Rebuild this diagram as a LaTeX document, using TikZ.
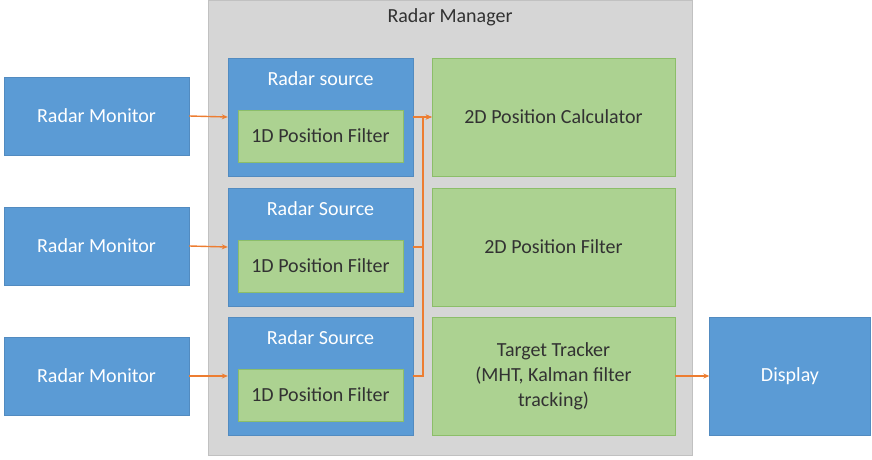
\documentclass[tikz,border=0pt]{standalone}
\usepackage{fontspec}
\setmainfont{Carlito}
\usetikzlibrary{arrows.meta}
\definecolor{boxblue}{RGB}{91,155,213}
\definecolor{boxgreen}{RGB}{172,210,145}
\definecolor{greenline}{RGB}{140,190,105}
\definecolor{mgrgray}{RGB}{214,214,214}
\definecolor{flowline}{RGB}{237,125,49}
\definecolor{darktext}{RGB}{50,50,50}
\tikzset{
  bluebox/.style={draw=boxblue!90!black, fill=boxblue, text=white, inner sep=0pt},
  greenbox/.style={draw=greenline, fill=boxgreen, text=darktext, inner sep=0pt, align=center},
  flow/.style={draw=flowline, line width=1.4pt, -{Stealth[length=6pt,width=5pt]}},
  bus/.style={draw=flowline, line width=1.4pt}
}
\begin{document}
\begin{tikzpicture}[x=1pt, y=-1pt, font=\fontsize{20}{25}\selectfont]
        \useasboundingbox (0,0) rectangle (872,460);
        % Radar Manager
        \node[fill=mgrgray, draw=mgrgray!90!black, minimum width=484pt, minimum height=455pt, inner sep=0pt] (mgr) at (450,227.5) {};
        \node[text=darktext] (mgrlabel) at (450,17) {Radar Manager};
        % Monitores
        \node[bluebox, minimum width=185pt, minimum height=78pt] (mon1) at (96.5,116) {Radar Monitor};
        \node[bluebox, minimum width=185pt, minimum height=78pt] (mon2) at (96.5,246) {Radar Monitor};
        \node[bluebox, minimum width=185pt, minimum height=78pt] (mon3) at (96.5,376) {Radar Monitor};
        % Fuentes con filtro 1D
        \node[bluebox, minimum width=185pt, minimum height=118pt] (src1) at (320.5,117) {};
        \node[bluebox, minimum width=185pt, minimum height=118pt] (src2) at (320.5,247) {};
        \node[bluebox, minimum width=185pt, minimum height=118pt] (src3) at (320.5,376) {};
        \node[text=white] (srclabel1) at (320.5,79) {Radar source};
        \node[text=white] (srclabel2) at (320.5,209) {Radar Source};
        \node[text=white] (srclabel3) at (320.5,338) {Radar Source};
        \node[greenbox, minimum width=165pt, minimum height=52pt] (flt1) at (320.5,136) {1D Position Filter};
        \node[greenbox, minimum width=165pt, minimum height=52pt] (flt2) at (320.5,266) {1D Position Filter};
        \node[greenbox, minimum width=165pt, minimum height=52pt] (flt3) at (320.5,395) {1D Position Filter};
        % Etapas 2D
        \node[greenbox, minimum width=243pt, minimum height=118pt] (calc) at (553.5,117) {2D Position Calculator};
        \node[greenbox, minimum width=243pt, minimum height=118pt] (pfilt) at (553.5,247) {2D Position Filter};
        \node[greenbox, minimum width=243pt, minimum height=118pt] (track) at (553.5,376) {Target Tracker\\(MHT, Kalman filter\\tracking)};
        % Display
        \node[bluebox, minimum width=161pt, minimum height=118pt] (disp) at (790,376) {Display};
        % Conexiones
        \coordinate (busx) at (423,0);
        \draw[flow] (mon1.east) -- (src1.west);
        \draw[flow] (mon2.east) -- (src2.west);
        \draw[flow] (mon3.east) -- (src3.west);
        \draw[flow] (src1.east) -- (calc.west);
        \draw[bus] (src2.east) -- (src2.east -| busx);
        \draw[flow] (src3.east) -- (src3.east -| busx) |- (calc.west);
        \draw[flow] (track.east) -- (disp.west);
\end{tikzpicture}
\end{document}
